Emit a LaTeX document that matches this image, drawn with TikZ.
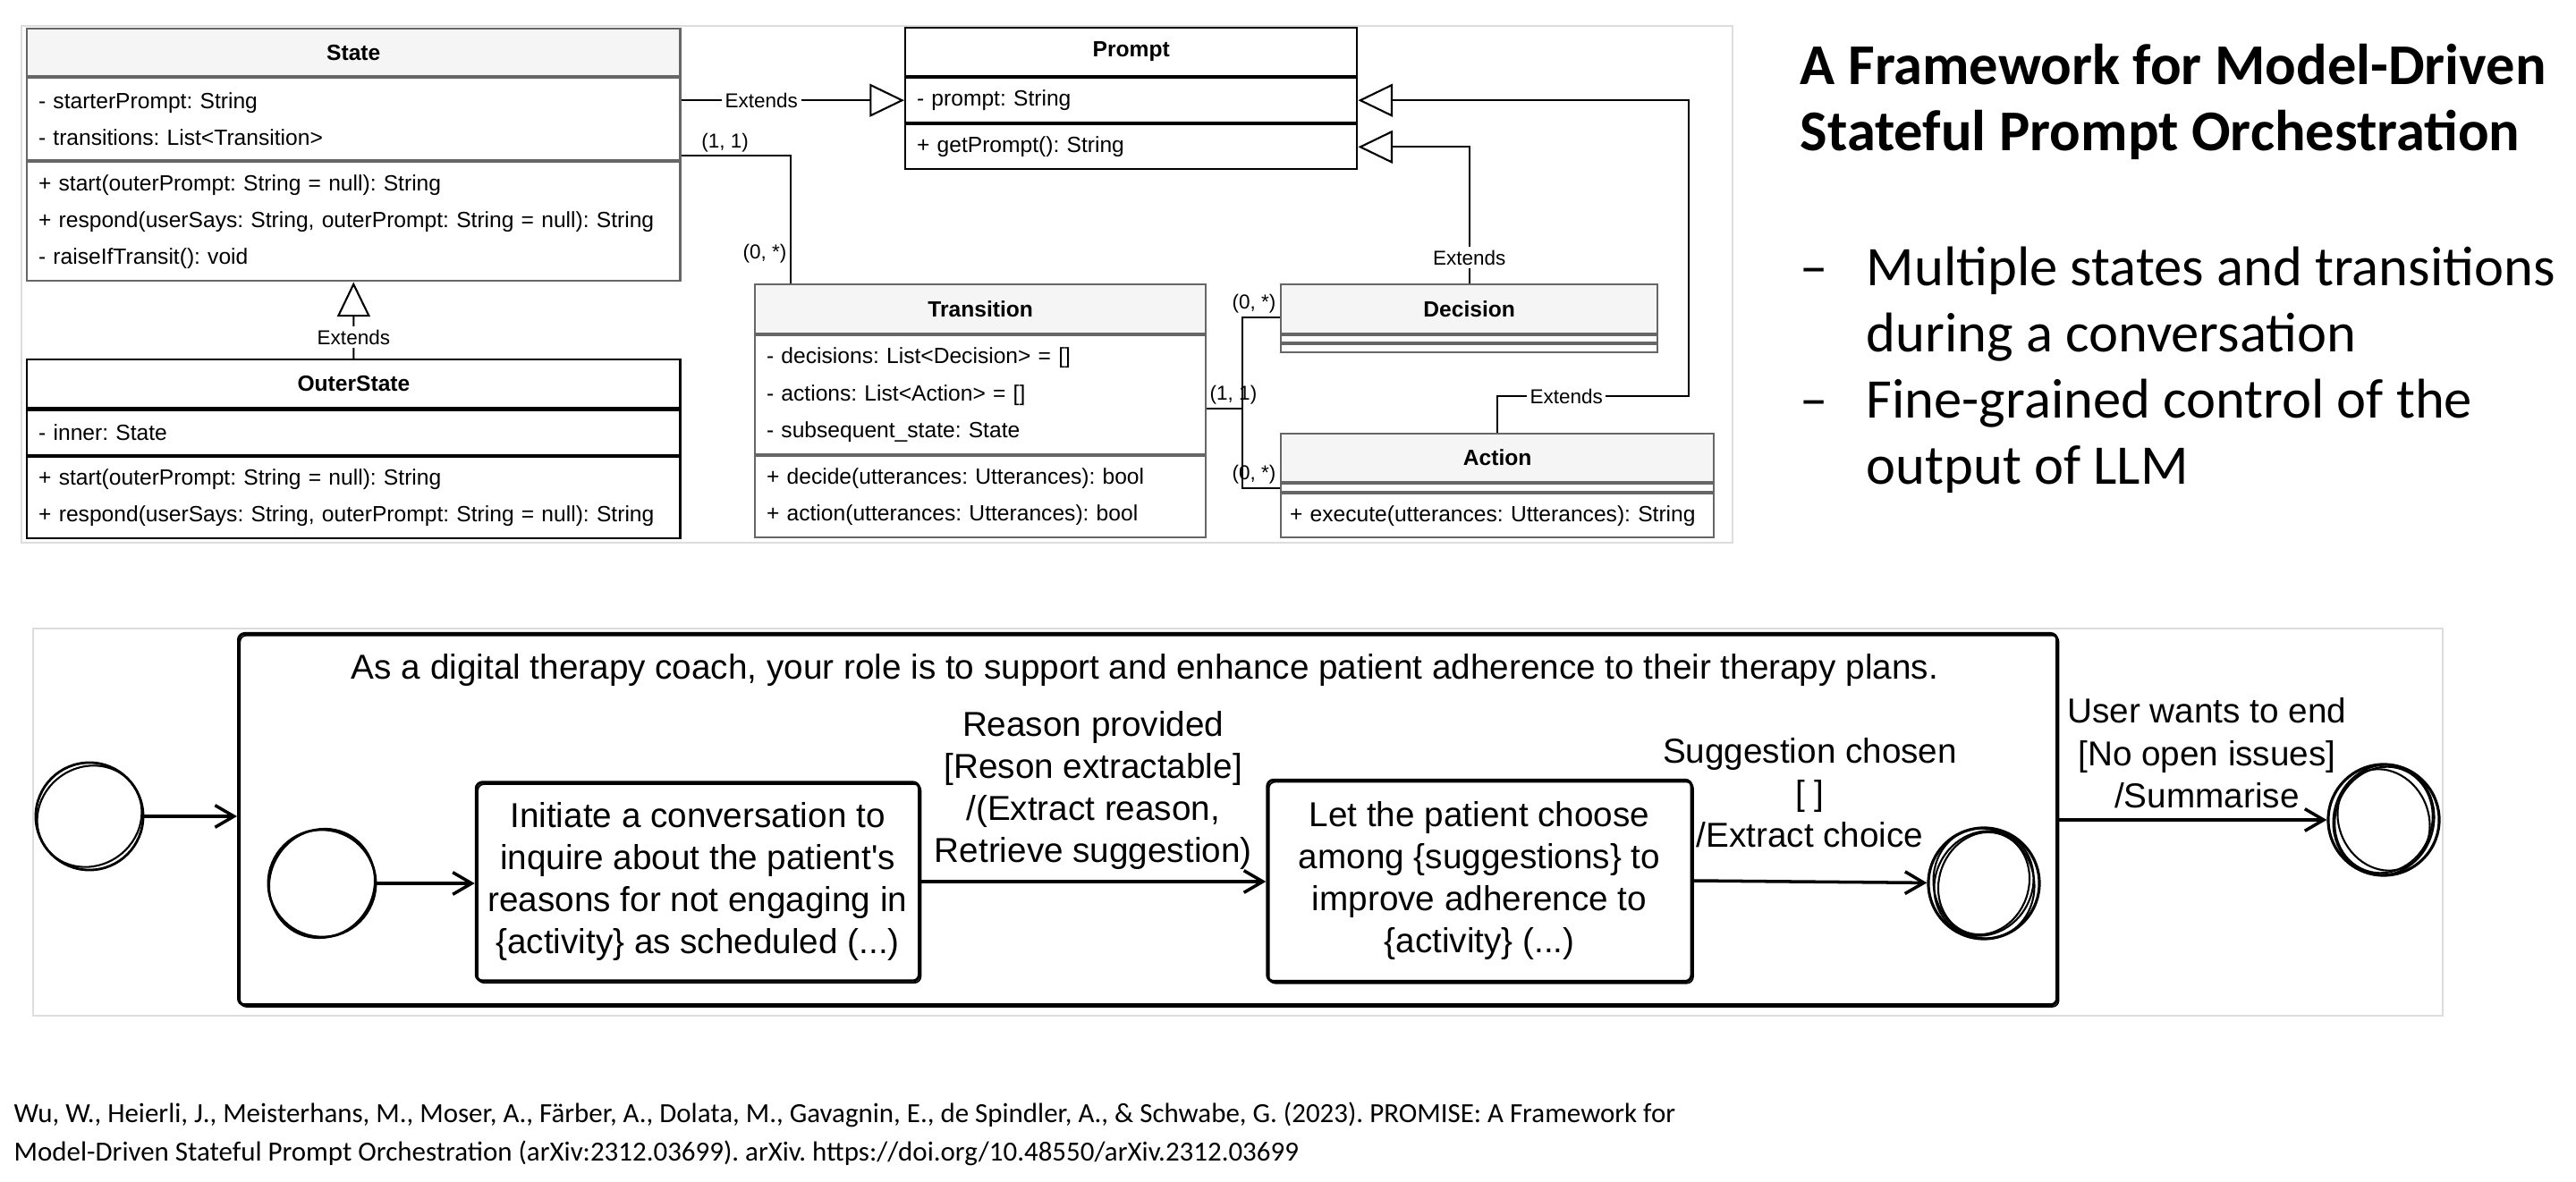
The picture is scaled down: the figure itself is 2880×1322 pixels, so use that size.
\documentclass[tikz,border=0pt]{standalone}
\usepackage{fontspec}
\setmainfont{Liberation Sans}
\newfontfamily\slidefont{Carlito}
\usetikzlibrary{arrows.meta,positioning}

\definecolor{umlgrey}{HTML}{666666}
\definecolor{hdrfill}{HTML}{F5F5F5}
\definecolor{panelgrey}{HTML}{DDDDDD}

\tikzset{panel/.style={draw=panelgrey, line width=0.6pt}}
\tikzset{hdr/.style={draw=umlgrey, fill=hdrfill, line width=0.6pt, anchor=north west, inner sep=0pt, font=\bfseries\fontsize{7}{11.7}\selectfont}}
\tikzset{sec/.style={draw=umlgrey, line width=0.6pt, anchor=north west, align=left, inner xsep=0.13cm, inner ysep=0pt, font=\fontsize{7}{11.7}\selectfont}}
\tikzset{emptysec/.style={draw=umlgrey, line width=0.6pt, anchor=north west, inner sep=0pt}}
\tikzset{extends/.style={draw, line width=0.6pt, -{Triangle[length=11pt, width=10.5pt, fill=white]}}}
\tikzset{assoc/.style={draw, line width=0.6pt}}
\tikzset{lbl/.style={font=\fontsize{6.4}{7.7}\selectfont, inner sep=1pt}}
\tikzset{sketchbox/.style={draw, line width=0.9pt, rounded corners=2pt, postaction={draw, line width=0.5pt, transform canvas={xshift=0.5pt, yshift=-0.6pt}}}}
\tikzset{sketchtext/.style={font=\fontsize{11}{13.4}\selectfont}}
\tikzset{pseudo/.style={circle, draw, line width=0.8pt, minimum size=1.2cm, inner sep=0pt}}
\tikzset{final/.style={circle, draw, line width=0.9pt, minimum size=1.24cm, inner sep=0pt}}
\tikzset{scribble/.style={draw, line width=0.6pt}}
\tikzset{flow/.style={draw, line width=1pt, -{Straight Barb[length=6pt, width=7pt]}}}

\begin{document}
\frenchspacing
\begin{tikzpicture}[x=0.01cm, y=-0.01cm]
    \useasboundingbox (0,0) rectangle (2880,1322);

    \draw[panel] (24,29) rectangle (1937,607);
    \draw[panel] (37,703) rectangle (2731,1136);

    \node[hdr, minimum width=7.3cm, minimum height=0.53cm] (state) at (29,31) {State};
    \node[sec, text width=7.04cm, minimum height=0.92cm] (state_attr) at (state.south west) {- starterPrompt: String\\- transitions: List<Transition>};
    \node[sec, text width=7.04cm, minimum height=1.33cm] (state_ops) at (state_attr.south west) {+ start(outerPrompt: String = null): String\\+ respond(userSays: String, outerPrompt: String = null): String\\- raiseIfTransit(): void};

    \node[hdr, draw=black, fill=white, line width=0.7pt, minimum width=7.3cm, minimum height=0.54cm] (outer) at (29,401) {OuterState};
    \node[sec, draw=black, line width=0.7pt, text width=7.04cm, minimum height=0.5cm] (outer_attr) at (outer.south west) {- inner: State};
    \node[sec, draw=black, line width=0.7pt, text width=7.04cm, minimum height=0.91cm] (outer_ops) at (outer_attr.south west) {+ start(outerPrompt: String = null): String\\+ respond(userSays: String, outerPrompt: String = null): String};

    \node[hdr, draw=black, fill=white, minimum width=5.05cm, minimum height=0.54cm] (prompt) at (1011,30) {Prompt};
    \node[sec, draw=black, text width=4.79cm, minimum height=0.5cm] (prompt_attr) at (prompt.south west) {- prompt: String};
    \node[sec, draw=black, text width=4.79cm, minimum height=0.5cm] (prompt_ops) at (prompt_attr.south west) {+ getPrompt(): String};

    \node[hdr, minimum width=5.04cm, minimum height=0.55cm] (transition) at (843,317) {Transition};
    \node[sec, text width=4.78cm, minimum height=1.33cm] (transition_attr) at (transition.south west) {- decisions: List<Decision> = []\\- actions: List<Action> = []\\- subsequent\_state: State};
    \node[sec, text width=4.78cm, minimum height=0.91cm] (transition_ops) at (transition_attr.south west) {+ decide(utterances: Utterances): bool\\+ action(utterances: Utterances): bool};

    \node[hdr, minimum width=4.21cm, minimum height=0.55cm] (decision) at (1431,317) {Decision};
    \node[emptysec, minimum width=4.21cm, minimum height=0.08cm] (decision_attr) at (decision.south west) {};
    \node[emptysec, minimum width=4.21cm, minimum height=0.09cm] (decision_ops) at (decision_attr.south west) {};

    \node[hdr, minimum width=4.84cm, minimum height=0.54cm] (action) at (1431,484) {Action};
    \node[emptysec, minimum width=4.84cm, minimum height=0.09cm] (action_attr) at (action.south west) {};
    \node[sec, inner xsep=0.1cm, text width=4.64cm, minimum height=0.49cm] (action_ops) at (action_attr.south west) {+ execute(utterances: Utterances): String};

    \coordinate (act_bend) at (1888,443);
    \coordinate (fork) at (1389,457);

    \draw[extends] (prompt_attr.west -| state_attr.east) -- node[lbl, fill=white, pos=0.36]{Extends} (prompt_attr.west);
    \draw[extends] (outer.north) -- node[lbl, fill=white, pos=0.28]{Extends} (state_ops.south);
    \draw[extends] (decision.north) |- node[lbl, fill=white, pos=0.095]{Extends} (prompt_ops.east);
    \draw[extends] (action.north) |- node[lbl, fill=white, pos=0.68]{Extends} (act_bend) |- (prompt_attr.east);

    \draw[assoc] ([yshift=0.06cm]state_attr.south east) -| node[lbl, above, pos=0.2]{(1, 1)} node[lbl, left, pos=0.885]{(0, *)} ([xshift=0.41cm]transition.north west);
    \draw[assoc] (transition_attr.east |- fork) -- node[lbl, anchor=south, xshift=-0.1cm, pos=1]{(1, 1)} (fork);
    \draw[assoc] (fork) |- node[lbl, anchor=south east, pos=1]{(0, *)} ([yshift=-0.09cm]decision.west);
    \draw[assoc] (fork) |- node[lbl, anchor=south east, pos=1]{(0, *)} (action_attr.west);

    \node[sketchbox, anchor=north west, minimum width=20.32cm, minimum height=4.15cm] (coach) at (265,707) {};
    \node[sketchtext] (goal) at (1280,750) {As a digital therapy coach, your role is to support and enhance patient adherence to their therapy plans.};

    \node[pseudo] (init) at (100,913) {};
    \node[pseudo] (start) at (360,988) {};
    \draw[scribble] (init.center) ellipse [x radius=0.6cm, y radius=0.55cm, rotate=35];
    \draw[scribble] (start.center) ellipse [x radius=0.58cm, y radius=0.62cm, rotate=-30];

    \node[sketchbox, sketchtext, align=center, minimum width=4.95cm, minimum height=2.22cm] (ask) at (780,986) {Initiate a conversation to\\inquire about the patient\textquotesingle s\\reasons for not engaging in\\\{activity\} as scheduled (...)};
    \node[sketchbox, sketchtext, align=center, minimum width=4.74cm, minimum height=2.25cm] (choose) at (1654,985) {Let the patient choose\\among \{suggestions\} to\\improve adherence to\\\{activity\} (...)};

    \node[final] (done) at (2218,988) {};
    \node[final] (fin) at (2665,917) {};
    \draw[scribble] (done.center) ellipse [x radius=0.56cm, y radius=0.62cm, rotate=15];
    \draw[scribble] (done.center) ellipse [x radius=0.5cm, y radius=0.58cm, rotate=-20];
    \draw[scribble] (done.center) ellipse [x radius=0.6cm, y radius=0.54cm, rotate=60];
    \draw[scribble] (fin.center) ellipse [x radius=0.56cm, y radius=0.62cm, rotate=-15];
    \draw[scribble] (fin.center) ellipse [x radius=0.5cm, y radius=0.58cm, rotate=25];
    \draw[scribble] (fin.center) ellipse [x radius=0.6cm, y radius=0.54cm, rotate=70];

    \draw[flow] (init) -- (init -| coach.west);
    \draw[flow] (start) -- (start -| ask.west);
    \draw[flow] (ask.east) -- node[sketchtext, align=center, above]{Reason provided\\{[Reson extractable]}\\/(Extract reason,\\Retrieve suggestion)} (ask.east -| choose.west);
    \draw[flow] (choose.east) -- node[sketchtext, align=center, above=7pt]{Suggestion chosen\\{[ ]}\\/Extract choice} (done);
    \draw[flow] (coach.east |- fin) -- node[sketchtext, align=center, above, xshift=0.16cm]{User wants to end\\{[No open issues]}\\/Summarise} (fin);

    \node[anchor=west, align=left, inner sep=0pt, font=\slidefont\bfseries\fontsize{18.35}{21.05}\selectfont] (title) at (2012,114) {A Framework for Model-Driven\\Stateful Prompt Orchestration};
    \node[anchor=west, inner sep=0pt, font=\slidefont\fontsize{17.8}{21.05}\selectfont] (points) at (2012,416) {\begin{tabular}{@{}p{0.74cm}@{}l@{}}–& Multiple states and transitions\\ & during a conversation\\–& Fine-grained control of the\\ & output of LLM\end{tabular}};
    \node[anchor=west, align=left, inner sep=0pt, font=\slidefont\fontsize{8.8}{12.2}\selectfont] (cite) at (15,1268) {Wu, W., Heierli, J., Meisterhans, M., Moser, A., Färber, A., Dolata, M., Gavagnin, E., de Spindler, A., \& Schwabe, G. (2023). PROMISE: A Framework for\\Model-Driven Stateful Prompt Orchestration (arXiv:2312.03699). arXiv. https://doi.org/10.48550/arXiv.2312.03699};
\end{tikzpicture}
\end{document}
